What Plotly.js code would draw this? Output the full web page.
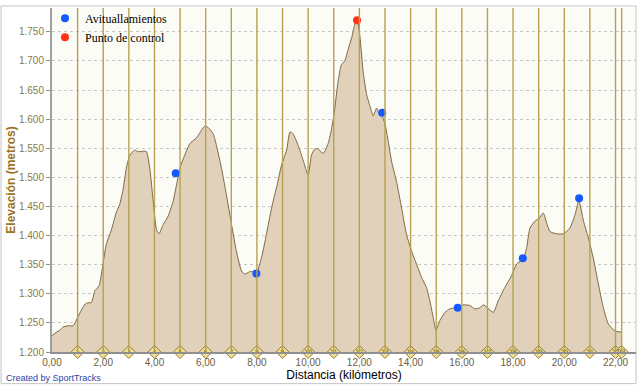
<!DOCTYPE html>
<html>
<head>
<meta charset="utf-8">
<script src="https://cdn.plot.ly/plotly-3.0.1.min.js"></script>
<style>html,body{margin:0;padding:0;background:#fff;}#chart{width:640px;height:386px;}</style>
</head>
<body>
<div id="chart"></div>
<script>
// Elevation profile (km, m)
const dist = [0.00, 0.17, 0.30, 0.43, 0.63, 0.82, 1.02, 1.21, 1.34, 1.54, 1.67, 1.84, 1.99, 2.12, 2.32, 2.52, 2.64, 2.77, 2.91, 3.04, 3.23, 3.36, 3.55, 3.69, 3.82, 3.95, 4.08, 4.18, 4.34, 4.53, 4.73, 4.86, 5.01, 5.18, 5.38, 5.64, 5.96, 6.09, 6.29, 6.42, 6.62, 6.81, 7.01, 7.20, 7.40, 7.53, 7.72, 7.85, 7.98, 8.18, 8.37, 8.57, 8.79, 8.96, 9.16, 9.29, 9.41, 9.61, 9.80, 10.00, 10.13, 10.26, 10.39, 10.59, 10.78, 10.90, 11.02, 11.17, 11.30, 11.43, 11.56, 11.70, 11.82, 11.91, 12.02, 12.15, 12.28, 12.41, 12.54, 12.67, 12.77, 12.89, 13.00, 13.13, 13.26, 13.45, 13.65, 13.84, 14.04, 14.23, 14.43, 14.62, 14.75, 14.88, 14.99, 15.14, 15.34, 15.53, 15.84, 16.05, 16.31, 16.51, 16.70, 16.84, 16.97, 17.23, 17.42, 17.68, 17.94, 18.14, 18.40, 18.53, 18.66, 18.86, 19.02, 19.18, 19.31, 19.44, 19.70, 19.96, 20.22, 20.42, 20.57, 20.75, 20.94, 21.13, 21.33, 21.52, 21.72, 21.98, 22.24];
const elev = [1228, 1234, 1237, 1243, 1245, 1245, 1261, 1277, 1284, 1285, 1305, 1314, 1351, 1385, 1410, 1441, 1453, 1478, 1518, 1538, 1547, 1544, 1545, 1544, 1515, 1459, 1410, 1403, 1419, 1433, 1459, 1487, 1518, 1538, 1558, 1568, 1588, 1586, 1575, 1555, 1515, 1470, 1419, 1373, 1339, 1334, 1338, 1338, 1335, 1362, 1402, 1447, 1487, 1521, 1547, 1578, 1575, 1555, 1530, 1504, 1538, 1549, 1549, 1541, 1558, 1580, 1612, 1665, 1694, 1700, 1720, 1740, 1763, 1772, 1743, 1680, 1643, 1623, 1606, 1619, 1609, 1605, 1592, 1561, 1527, 1493, 1447, 1402, 1373, 1351, 1328, 1311, 1288, 1260, 1237, 1254, 1268, 1274, 1277, 1281, 1280, 1274, 1276, 1281, 1277, 1268, 1288, 1311, 1331, 1351, 1360, 1379, 1413, 1425, 1430, 1439, 1422, 1407, 1403, 1403, 1413, 1436, 1460, 1425, 1396, 1362, 1317, 1277, 1248, 1236, 1234];

// Waypoints
const aviDist = [4.83, 7.98, 12.89, 15.84, 18.38, 20.58];
const aviElev = [1507, 1335, 1611, 1276, 1361, 1464];
const ctrlDist = [11.91];
const ctrlElev = [1770];

// Km markers
const kmMarks = [1,2,3,4,5,6,7,8,9,10,11,12,13,14,15,16,17,18,19,20,21,22,22.24];
const kmLabels = ['1','2','3','4','5','6','7','8','9','10','11','12','13','14','15','16','17','18','19','20','21','22','23'];

// Axis ticks
const xTicks = [0,2,4,6,8,10,12,14,16,18,20,22];
const yTicks = [1200,1250,1300,1350,1400,1450,1500,1550,1600,1650,1700,1750];

const yMin = 1200, yMax = 1791;
const gold = 'rgb(184,160,80)';

const shapes = kmMarks.map(k => ({
  type: 'line', xref: 'x', yref: 'paper', x0: k, x1: k, y0: 0, y1: 1,
  line: {color: gold, width: 1.4}, layer: 'above'
}));
shapes.push({type: 'rect', xref: 'paper', yref: 'paper', x0: -0.0873, x1: 1.0, y0: -0.092, y1: 1.0058,
  line: {color: '#c4c4c4', width: 1}, fillcolor: 'rgba(0,0,0,0)', layer: 'below'});

const traces = [
  {x: dist, y: elev, type: 'scatter', mode: 'lines', fill: 'tozeroy',
   fillcolor: 'rgb(225,209,186)', line: {color: 'rgb(125,105,65)', width: 1, shape: 'spline', smoothing: 0.5},
   showlegend: false, hoverinfo: 'skip'},
  {x: kmMarks, y: kmMarks.map(() => yMin), type: 'scatter', mode: 'markers',
   marker: {symbol: 'diamond', size: 10, color: 'rgb(238,222,150)', line: {color: 'rgb(150,125,50)', width: 1}},
   cliponaxis: false, showlegend: false, hoverinfo: 'skip'},
  {x: kmMarks, y: kmMarks.map(() => yMin), type: 'scatter', mode: 'text',
   text: kmLabels, textposition: 'middle center', textfont: {size: 6, color: '#5a4a10', family: 'DejaVu Sans'},
   cliponaxis: false, showlegend: false, hoverinfo: 'skip'},
  {x: aviDist, y: aviElev, type: 'scatter', mode: 'markers', name: 'Avituallamientos',
   marker: {color: 'rgb(20,90,255)', size: 8}, cliponaxis: false},
  {x: ctrlDist, y: ctrlElev, type: 'scatter', mode: 'markers', name: 'Punto de control',
   marker: {color: 'rgb(255,50,20)', size: 8}, cliponaxis: false}
];

const layout = {
  width: 640, height: 386,
  margin: {l: 52, r: 4, t: 5, b: 34},
  paper_bgcolor: '#ffffff', plot_bgcolor: '#fcfcf6',
  separators: ',.',
  showlegend: true,
  legend: {x: -0.012, y: 1.012, xanchor: 'left', yanchor: 'top', bgcolor: 'rgba(0,0,0,0)',
           font: {family: 'Liberation Serif, serif', size: 12, color: '#000'}, tracegroupgap: 0},
  xaxis: {range: [0, 22.8], tickvals: xTicks, tickformat: '.2f', showgrid: false, zeroline: false,
          showline: true, linecolor: '#909090', linewidth: 2, ticks: '', 
          tickfont: {family: 'Liberation Sans, Arial', size: 10, color: '#6b6040'},
          title: {text: 'Distancia (kilómetros)', font: {family: 'Liberation Sans, Arial', size: 12, color: '#000'}, standoff: 2}},
  yaxis: {range: [yMin, yMax], tickvals: yTicks, tickformat: ',d', showgrid: true, gridcolor: '#c8c8c8', griddash: 'dot',
          zeroline: false, showline: true, linecolor: '#a0a0a0', linewidth: 2, ticks: 'outside', ticklen: 4, tickcolor: '#909090',
          tickfont: {family: 'Liberation Sans, Arial', size: 10, color: '#8a7a45'},
          title: {text: 'Elevación (metros)', font: {family: 'Liberation Sans, Arial', size: 12, color: '#9a7422', weight: 'bold'}, standoff: 1}},
  shapes: shapes,
  annotations: [
    {text: 'Created by SportTracks', xref: 'paper', yref: 'paper', x: -0.082, y: -0.075, xanchor: 'left', yanchor: 'middle',
     showarrow: false, font: {family: 'Liberation Sans, Arial', size: 9, color: '#2a44a8'}}
  ]
};

Plotly.newPlot('chart', traces, layout, {displayModeBar: false, staticPlot: true});
</script>
</body>
</html>
